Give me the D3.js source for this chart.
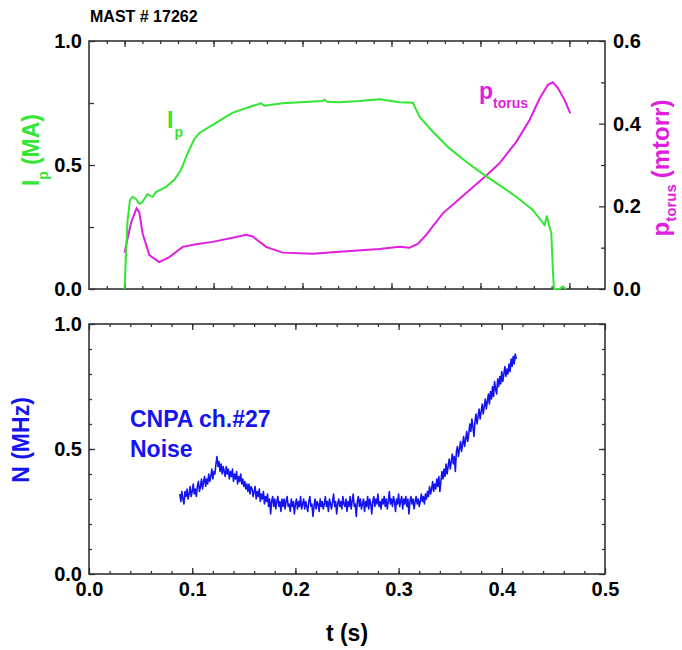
<!DOCTYPE html>
<html>
<head>
<meta charset="utf-8">
<script src="https://cdn.jsdelivr.net/npm/d3@7"></script>
<style>
body{margin:0;background:#fff;}
text{font-family:"Liberation Sans",Arial,sans-serif;font-weight:bold;}
</style>
</head>
<body>
<div id="chart"></div>
<script>

///////////////////////////////////////////////////////////////////////
// data

// top panel: plasma current Ip (MA), time axis of the top panel
let ipTime  = [0, 0.0016, 0.0034, 0.0061, 0.009, 0.0128, 0.0165, 0.0202, 0.0259, 0.0315, 0.0353,
               0.0466, 0.0559, 0.0634, 0.0709, 0.0784, 0.084, 0.0987, 0.1211, 0.1436, 0.1534, 0.1571,
               0.1774, 0.2224, 0.2246, 0.228, 0.2415, 0.264, 0.2865, 0.309, 0.324, 0.3315, 0.3465,
               0.3653, 0.384, 0.4057, 0.4214, 0.4403, 0.4589, 0.4721, 0.4747, 0.4766, 0.4796, 0.4814,
               0.4826, 0.489, 0.4926, 0.496];
let ipValue = [0, 0.145, 0.278, 0.359, 0.372, 0.363, 0.343, 0.352, 0.383, 0.371, 0.391,
               0.412, 0.44, 0.48, 0.548, 0.605, 0.629, 0.661, 0.71, 0.738, 0.749, 0.739,
               0.749, 0.758, 0.763, 0.755, 0.753, 0.758, 0.765, 0.753, 0.751, 0.695, 0.634,
               0.567, 0.513, 0.456, 0.419, 0.372, 0.319, 0.258, 0.296, 0.262, 0.225, 0.077,
               0, 0, 0.01, 0];

// top panel: torus pressure (mtorr)
let pTime  = [0, 0.003, 0.0075, 0.0135, 0.0165, 0.0202, 0.0278, 0.039, 0.0503, 0.0652, 0.0803,
              0.099, 0.1215, 0.1366, 0.144, 0.159, 0.1777, 0.2115, 0.2415, 0.2865, 0.309, 0.3203,
              0.3296, 0.339, 0.3577, 0.384, 0.4057, 0.4214, 0.4403, 0.4552, 0.4665, 0.4758, 0.4814,
              0.4871, 0.4946, 0.501];
let pValue = [0.088, 0.119, 0.162, 0.195, 0.186, 0.135, 0.082, 0.065, 0.077, 0.102, 0.108,
              0.114, 0.124, 0.131, 0.127, 0.102, 0.088, 0.085, 0.09, 0.097, 0.102, 0.1,
              0.109, 0.131, 0.183, 0.232, 0.273, 0.304, 0.356, 0.409, 0.461, 0.494, 0.5,
              0.486, 0.457, 0.425];

// bottom panel: CNPA ch.#27 noise (MHz), one sample per ms from 0.088 s
let noiseStart = 0.088;
let noiseStep = 0.001;
let noiseValue = [
  0.32, 0.29, 0.33, 0.30, 0.28, 0.33, 0.31, 0.34, 0.30, 0.32, 0.35, 0.31, 0.33, 0.36, 0.32, 0.34, 0.31, 0.35, 0.37, 0.33,
  0.35, 0.38, 0.34, 0.37, 0.39, 0.35, 0.38, 0.36, 0.40, 0.37, 0.39, 0.42, 0.38, 0.41, 0.40, 0.44, 0.47, 0.43, 0.45, 0.41,
  0.44, 0.40, 0.43, 0.41, 0.39, 0.43, 0.40, 0.42, 0.38, 0.41, 0.39, 0.42, 0.37, 0.40, 0.38, 0.41, 0.36, 0.39, 0.37, 0.40,
  0.36, 0.38, 0.35, 0.37, 0.34, 0.36, 0.33, 0.36, 0.32, 0.35, 0.34, 0.31, 0.33, 0.35, 0.30, 0.33, 0.31, 0.34, 0.29, 0.32,
  0.30, 0.33, 0.28, 0.31, 0.29, 0.32, 0.27, 0.30, 0.24, 0.29, 0.31, 0.27, 0.30, 0.26, 0.29, 0.31, 0.27, 0.29, 0.25, 0.30,
  0.27, 0.30, 0.26, 0.29, 0.31, 0.27, 0.28, 0.25, 0.30, 0.27, 0.29, 0.24, 0.28, 0.30, 0.26, 0.29, 0.27, 0.31, 0.26, 0.28,
  0.30, 0.26, 0.29, 0.27, 0.25, 0.29, 0.31, 0.27, 0.28, 0.23, 0.27, 0.30, 0.26, 0.29, 0.28, 0.25, 0.30, 0.27, 0.29, 0.26,
  0.28, 0.31, 0.27, 0.29, 0.25, 0.30, 0.28, 0.26, 0.29, 0.32, 0.27, 0.29, 0.24, 0.28, 0.30, 0.27, 0.29, 0.26, 0.31, 0.28,
  0.27, 0.30, 0.25, 0.29, 0.27, 0.31, 0.26, 0.29, 0.32, 0.27, 0.28, 0.23, 0.29, 0.31, 0.27, 0.30, 0.26, 0.28, 0.30, 0.25,
  0.29, 0.27, 0.31, 0.26, 0.30, 0.28, 0.24, 0.29, 0.31, 0.27, 0.30, 0.28, 0.32, 0.27, 0.29, 0.26, 0.30, 0.28, 0.31, 0.27,
  0.30, 0.26, 0.29, 0.33, 0.28, 0.30, 0.27, 0.31, 0.29, 0.25, 0.30, 0.28, 0.32, 0.27, 0.29, 0.31, 0.26, 0.30, 0.28, 0.31,
  0.27, 0.30, 0.24, 0.29, 0.31, 0.28, 0.30, 0.26, 0.29, 0.31, 0.28, 0.30, 0.27, 0.29, 0.32, 0.29, 0.31, 0.28, 0.32, 0.30,
  0.33, 0.31, 0.35, 0.32, 0.34, 0.37, 0.33, 0.36, 0.34, 0.38, 0.35, 0.39, 0.33, 0.37, 0.41, 0.38, 0.42, 0.39, 0.44, 0.40,
  0.43, 0.46, 0.42, 0.45, 0.48, 0.44, 0.47, 0.41, 0.49, 0.51, 0.47, 0.50, 0.53, 0.49, 0.52, 0.55, 0.51, 0.54, 0.57, 0.53,
  0.56, 0.60, 0.57, 0.62, 0.59, 0.55, 0.61, 0.64, 0.60, 0.63, 0.66, 0.62, 0.65, 0.68, 0.64, 0.67, 0.70, 0.66, 0.69, 0.72,
  0.68, 0.73, 0.70, 0.75, 0.71, 0.77, 0.74, 0.72, 0.78, 0.75, 0.79, 0.76, 0.81, 0.77, 0.80, 0.83, 0.79, 0.82, 0.80, 0.84,
  0.81, 0.86, 0.83, 0.87, 0.84, 0.88, 0.86
];

// ticks
let topXMajor = [0, 0.1, 0.2, 0.3, 0.4, 0.5];
let ipTicks = [0, 0.5, 1.0];
let pTicks = [0, 0.2, 0.4, 0.6];
let botXMajor = [0, 0.1, 0.2, 0.3, 0.4, 0.5];
let nTicks = [0, 0.5, 1.0];

let green = "#33e633";
let magenta = "#e01ee0";
let blue = "#1414f0";
let axisColor = "#333";

///////////////////////////////////////////////////////////////////////

let svg = d3.select("#chart")
            .append("svg")
            .attr("width", 682)
            .attr("height", 650);

let left = 89, right = 605;

let xTop = d3.scaleLinear().domain([-0.04, 0.54]).range([left, right]);
let yIp  = d3.scaleLinear().domain([0, 1]).range([289, 41]);
let yP   = d3.scaleLinear().domain([0, 0.6]).range([289, 41]);
let xBot = d3.scaleLinear().domain([0, 0.5]).range([left, right]);
let yN   = d3.scaleLinear().domain([0, 1]).range([574, 324]);

function addAxis(axis, tx, ty){
    let g = svg.append("g")
               .attr("transform", `translate(${tx},${ty})`)
               .call(axis);
    g.select(".domain").remove();
    g.attr("font-family", null).attr("font-size", null);
    g.selectAll("line").attr("stroke", axisColor).attr("stroke-width", 1.3);
    g.selectAll("text").attr("font-size", 20).attr("fill", "#000");
    return g;
}

let fmt = d3.format(".1f");

///////////////////////////////////////////////////////////////////////
// top panel axes

addAxis(d3.axisBottom(xTop).tickValues(d3.range(-0.02, 0.53, 0.02)).tickSize(-3).tickFormat(""), 0, 289);
addAxis(d3.axisBottom(xTop).tickValues(topXMajor).tickSize(-6).tickFormat(""), 0, 289);
addAxis(d3.axisTop(xTop).tickValues(d3.range(-0.02, 0.53, 0.02)).tickSize(-3).tickFormat(""), 0, 41);
addAxis(d3.axisTop(xTop).tickValues(topXMajor).tickSize(-6).tickFormat(""), 0, 41);

addAxis(d3.axisLeft(yIp).tickValues([0.25, 0.75]).tickSize(-5).tickFormat(""), left, 0);
addAxis(d3.axisLeft(yIp).tickValues(ipTicks).tickSize(-6).tickPadding(7).tickFormat(fmt), left, 0);
addAxis(d3.axisRight(yP).tickValues([0.1, 0.3, 0.5]).tickSize(-4).tickFormat(""), right, 0);
addAxis(d3.axisRight(yP).tickValues(pTicks).tickSize(-6).tickPadding(8).tickFormat(fmt), right, 0);

// bottom panel axes
addAxis(d3.axisBottom(xBot).tickValues(d3.range(0.02, 0.5, 0.02)).tickSize(-3).tickFormat(""), 0, 574);
addAxis(d3.axisBottom(xBot).tickValues(botXMajor).tickSize(-6).tickPadding(8).tickFormat(fmt), 0, 574);
addAxis(d3.axisTop(xBot).tickValues(d3.range(0.02, 0.5, 0.02)).tickSize(-3).tickFormat(""), 0, 324);
addAxis(d3.axisTop(xBot).tickValues(botXMajor).tickSize(-6).tickFormat(""), 0, 324);

addAxis(d3.axisLeft(yN).tickValues(d3.range(0.1, 1, 0.1)).tickSize(-3).tickFormat(""), left, 0);
addAxis(d3.axisLeft(yN).tickValues(nTicks).tickSize(-6).tickPadding(7).tickFormat(fmt), left, 0);
addAxis(d3.axisRight(yN).tickValues(d3.range(0.1, 1, 0.1)).tickSize(-3).tickFormat(""), right, 0);
addAxis(d3.axisRight(yN).tickValues(nTicks).tickSize(-6).tickFormat(""), right, 0);

// frames
[[41, 289], [324, 574]].forEach(function(p){
    svg.append("rect")
       .attr("x", left).attr("y", p[0])
       .attr("width", right - left).attr("height", p[1] - p[0])
       .attr("fill", "none")
       .attr("stroke", axisColor)
       .attr("stroke-width", 1.6);
});

///////////////////////////////////////////////////////////////////////
// curves

let ipLine = d3.line().x(d => xTop(d[0])).y(d => yIp(d[1]));
let pLine  = d3.line().x(d => xTop(d[0])).y(d => yP(d[1]));
let nLine  = d3.line().x((d, i) => xBot(noiseStart + i * noiseStep)).y(d => yN(d));

svg.append("path")
   .datum(d3.zip(pTime, pValue))
   .attr("d", pLine)
   .attr("fill", "none")
   .attr("stroke", magenta)
   .attr("stroke-width", 2);

svg.append("path")
   .datum(d3.zip(ipTime, ipValue))
   .attr("d", ipLine)
   .attr("fill", "none")
   .attr("stroke", green)
   .attr("stroke-width", 2);

svg.append("path")
   .datum(noiseValue)
   .attr("d", nLine)
   .attr("fill", "none")
   .attr("stroke", blue)
   .attr("stroke-width", 1.6)
   .attr("stroke-linejoin", "round");

///////////////////////////////////////////////////////////////////////
// texts

svg.append("text").attr("x", 90).attr("y", 22).attr("font-size", 16).text("MAST # 17262");

let ipLabel = svg.append("text").attr("x", 167).attr("y", 128).attr("fill", green).attr("font-size", 23);
ipLabel.append("tspan").text("I");
ipLabel.append("tspan").attr("font-size", 14).attr("dx", 1).attr("dy", 9).text("p");

let pLabel = svg.append("text").attr("x", 479).attr("y", 99).attr("fill", magenta).attr("font-size", 23);
pLabel.append("tspan").text("p");
pLabel.append("tspan").attr("font-size", 14).attr("dy", 9).text("torus");

let ipAxisLabel = svg.append("text")
                     .attr("transform", "translate(39,150) rotate(-90)")
                     .attr("text-anchor", "middle")
                     .attr("fill", green)
                     .attr("font-size", 23);
ipAxisLabel.append("tspan").text("I");
ipAxisLabel.append("tspan").attr("font-size", 14).attr("dy", 9).text("p");
ipAxisLabel.append("tspan").attr("dy", -9).attr("dx", 6).text("(MA)");

let pAxisLabel = svg.append("text")
                    .attr("transform", "translate(669,168) rotate(-90)")
                    .attr("text-anchor", "middle")
                    .attr("fill", magenta)
                    .attr("font-size", 24);
pAxisLabel.append("tspan").text("p");
pAxisLabel.append("tspan").attr("font-size", 15).attr("dy", 7).text("torus");
pAxisLabel.append("tspan").attr("dy", -7).attr("dx", 6).text("(mtorr)");

svg.append("text")
   .attr("transform", "translate(29,440) rotate(-90)")
   .attr("text-anchor", "middle")
   .attr("fill", blue)
   .attr("font-size", 23)
   .text("N (MHz)");

svg.append("text").attr("x", 130).attr("y", 427).attr("fill", blue).attr("font-size", 23).text("CNPA ch.#27");
svg.append("text").attr("x", 130).attr("y", 457).attr("fill", blue).attr("font-size", 23).text("Noise");

svg.append("text")
   .attr("x", 347).attr("y", 641)
   .attr("text-anchor", "middle")
   .attr("font-size", 23)
   .text("t (s)");

</script>
</body>
</html>
